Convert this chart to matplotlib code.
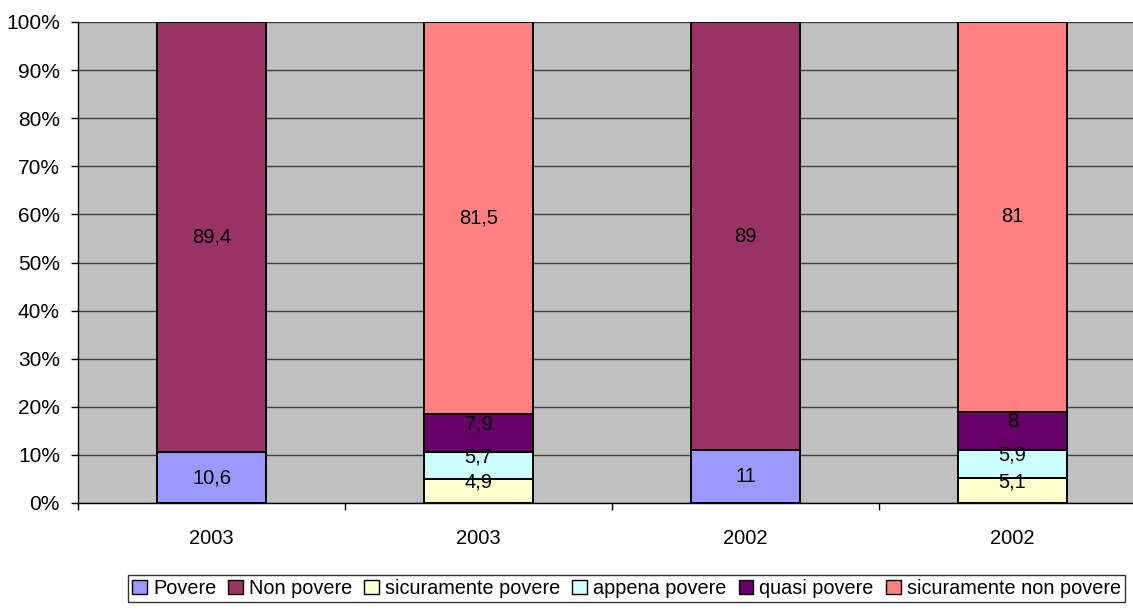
import numpy as np
import matplotlib.pyplot as plt
from matplotlib.patches import Patch

plt.rcParams['font.family'] = ['Liberation Sans', 'DejaVu Sans']

categories = ['2003', '2003', '2002', '2002']
series_names = ['Povere', 'Non povere', 'sicuramente povere', 'appena povere',
                'quasi povere', 'sicuramente non povere']
povere = [10.6, 0, 11, 0]
non_povere = [89.4, 0, 89, 0]
sic_povere = [0, 4.9, 0, 5.1]
appena_povere = [0, 5.7, 0, 5.9]
quasi_povere = [0, 7.9, 0, 8]
sic_non_povere = [0, 81.5, 0, 81]
labels = [['10,6', '', '11', ''], ['89,4', '', '89', ''],
          ['', '4,9', '', '5,1'], ['', '5,7', '', '5,9'],
          ['', '7,9', '', '8'], ['', '81,5', '', '81']]

colors = ['#9999FF', '#993366', '#FFFFCC', '#CCFFFF', '#660066', '#FF8080']
series = [povere, non_povere, sic_povere, appena_povere, quasi_povere, sic_non_povere]

fig = plt.figure(figsize=(11.33, 6.10), dpi=100)
ax = fig.add_axes([78/1133, 1-503/610, 1068/1133, 481/610])
ax.set_facecolor('#C0C0C0')

x = np.arange(len(categories))
bottom = np.zeros(len(categories))
for vals, col, labs in zip(series, colors, labels):
    vals = np.array(vals, dtype=float)
    mask = vals > 0
    ax.bar(x[mask], vals[mask], bottom=bottom[mask], width=0.405, color=col,
           edgecolor='black', linewidth=1.4, zorder=3)
    for xi, v, b, t in zip(x, vals, bottom, labs):
        if v > 0 and t:
            # small segments: labels sit a bit higher, like in the original
            off = 9 if v < 10 else 0
            ax.annotate(t, (xi, b + v/2), xytext=(0, off), textcoords='offset pixels',
                        ha='center', va='center', fontsize=14.5, zorder=4)
    bottom += vals

ax.set_xlim(-0.5, 3.5)
ax.set_ylim(0, 100)
ax.set_yticks(np.arange(0, 101, 10))
ax.set_yticklabels([f'{v}%' for v in range(0, 101, 10)], fontsize=15)
ax.yaxis.grid(True, color='#404040', linewidth=1, zorder=1)
ax.set_xticks(np.arange(-0.5, 4, 1))
ax.set_xticklabels([])
ax.set_xticks(x, minor=True)
ax.set_xticklabels(categories, minor=True, fontsize=14.5)
ax.tick_params(axis='x', which='major', length=5, width=1, direction='out')
ax.tick_params(axis='x', which='minor', length=0, pad=19)
ax.tick_params(axis='y', length=5, width=1, pad=8)
for s in ['top', 'right']:
    ax.spines[s].set_visible(False)
ax.spines['left'].set_linewidth(1)
ax.spines['bottom'].set_linewidth(1)

handles = [Patch(facecolor=c, edgecolor='black', linewidth=1) for c in colors]
leg = fig.legend(handles, series_names, loc='center', ncol=6,
                 bbox_to_anchor=(626.5/1133, 1-588.5/610), fontsize=14.3,
                 frameon=True, fancybox=False, edgecolor='black',
                 handlelength=0.75, handleheight=0.75, handletextpad=0.3,
                 columnspacing=0.6, borderpad=0.2)
leg.get_frame().set_linewidth(1)

fig.savefig('out.png', dpi=100)
